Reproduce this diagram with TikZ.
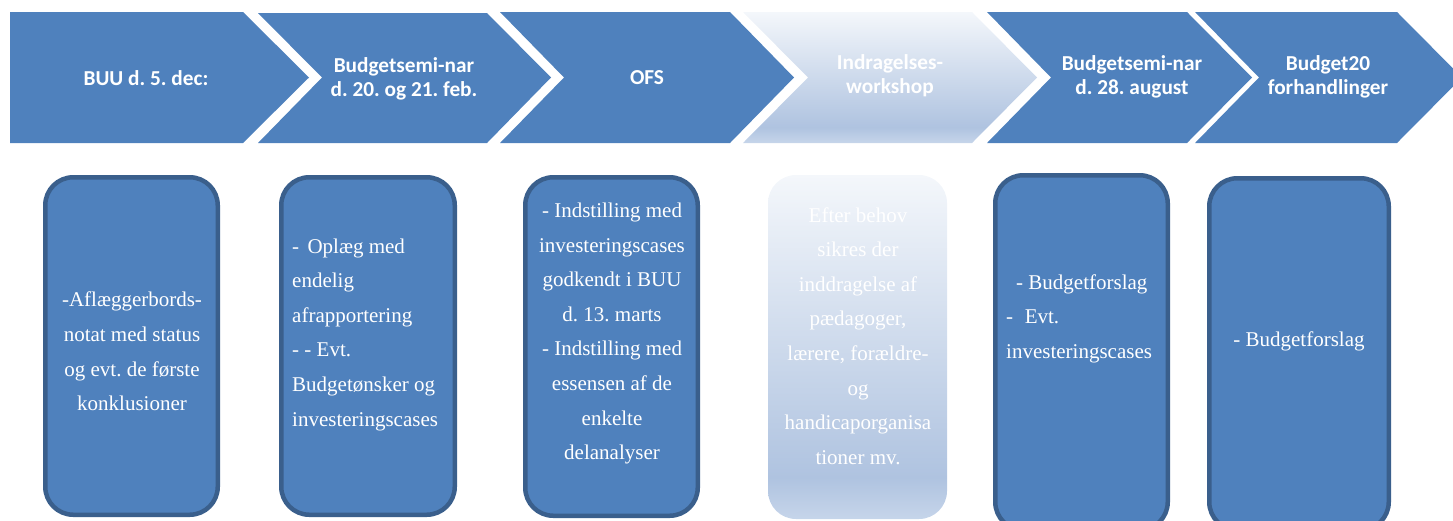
\documentclass[tikz,border=0pt]{standalone}
\usepackage{fontspec}
\setmainfont{Liberation Serif}
\newfontfamily\chevfont{Carlito}
\definecolor{chevblue}{HTML}{4F81BD}
\definecolor{boxedge}{HTML}{3A5F8C}
\definecolor{gtop}{HTML}{F4F7FB}
\definecolor{gdark}{HTML}{AFC3E0}
\definecolor{gbot}{HTML}{C6D5EA}
\pgfdeclareverticalshading{wshade}{100bp}{color(0bp)=(gbot); color(25bp)=(gbot); color(31bp)=(gdark); color(75bp)=(gtop); color(100bp)=(gtop)}
\frenchspacing
\begin{document}
\begin{tikzpicture}[x=1pt,y=-1pt,
  chev/.style={fill=chevblue, draw=none},
  chevlight/.style={shading=wshade, draw=none},
  chevtext/.style={text=white, font=\frenchspacing\chevfont\bfseries\fontsize{21.3}{24}\selectfont, align=center, inner sep=0pt},
  card/.style={fill=chevblue, draw=boxedge, line width=4.5pt, rounded corners=28pt},
  cardlight/.style={shading=wshade, draw=none, rounded corners=28pt},
  cardtext/.style={text=white, font=\frenchspacing\fontsize{21}{34.6}\selectfont, inner sep=0pt}]
\useasboundingbox (0,0) rectangle (1453,520);
\clip (0,0) rectangle (1453,520);
% chevrons
\path[chev] (10,12) -- (243,12) -- (309,77.5) -- (243,143) -- (10,143) -- cycle;
\path[chev] (258,13) -- (487,13) -- (551,77.5) -- (487,143) -- (258,143) -- (322,77.5) -- cycle;
\path[chev] (500,12) -- (730,12) -- (794,77.5) -- (730,143) -- (500,143) -- (564,77.5) -- cycle;
\path[chevlight] (743,12) -- (972,12) -- (1037,77.5) -- (972,143) -- (743,143) -- (808,77.5) -- cycle;
\path[chev] (987,12) -- (1187,12) -- (1252,77.5) -- (1187,143) -- (987,143) -- (1051,77.5) -- cycle;
\path[chev] (1195,12) -- (1397,12) -- (1462,77.5) -- (1397,143) -- (1195,143) -- (1259,77.5) -- cycle;
\node[chevtext] (c1) at (146,78) {BUU d. 5. dec:};
\node[chevtext] (c2) at (404,78.5) {Budgetsemi-nar\\d. 20. og 21. feb.};
\node[chevtext] (c3) at (647,78) {OFS};
\node[chevtext] (c4) at (890,76) {Indragelses-\\workshop};
\node[chevtext] (c5) at (1132,77) {Budgetsemi-nar\\d. 28. august};
\node[chevtext] (c6) at (1328,77) {Budget20\\forhandlinger};
% cards
\path[card] (45.25,177.25) rectangle (217.75,514.75);
\path[card] (281.25,177.25) rectangle (454.75,514.75);
\path[card] (525.25,177.25) rectangle (697.75,515.75);
\path[cardlight] (768,175) rectangle (947,519);
\path[card] (995.25,175.25) rectangle (1167.75,530);
\path[card] (1209.25,178.25) rectangle (1388.75,530);
\node[cardtext, align=center] (b1) at (132,351.5) {-Aflæggerbords-\\notat med status\\og evt. de første\\konklusioner};
\node[cardtext, align=left, anchor=west] (b2) at (292,334.5) {-\hspace{0.4em}Oplæg med\\endelig\\afrapportering\\- - Evt.\\Budgetønsker og\\investeringscases};
\node[cardtext, align=center] (b3) at (612,333.5) {- Indstilling med\\investeringscases\\godkendt i BUU\\d. 13. marts\\- Indstilling med\\essensen af de\\enkelte\\delanalyser};
\node[cardtext, align=center] (b4) at (858,336) {Efter behov\\sikres der\\inddragelse af\\pædagoger,\\lærere, forældre-\\og\\handicaporganisa\\tioner mv.};
\node[cardtext, align=left, anchor=west] (b5) at (1006,318.5) {\hspace{10pt}- Budgetforslag\\-\hspace{0.55em}Evt.\\investeringscases};
\node[cardtext, align=center] (b6) at (1299,341) {- Budgetforslag};
\end{tikzpicture}
\end{document}
